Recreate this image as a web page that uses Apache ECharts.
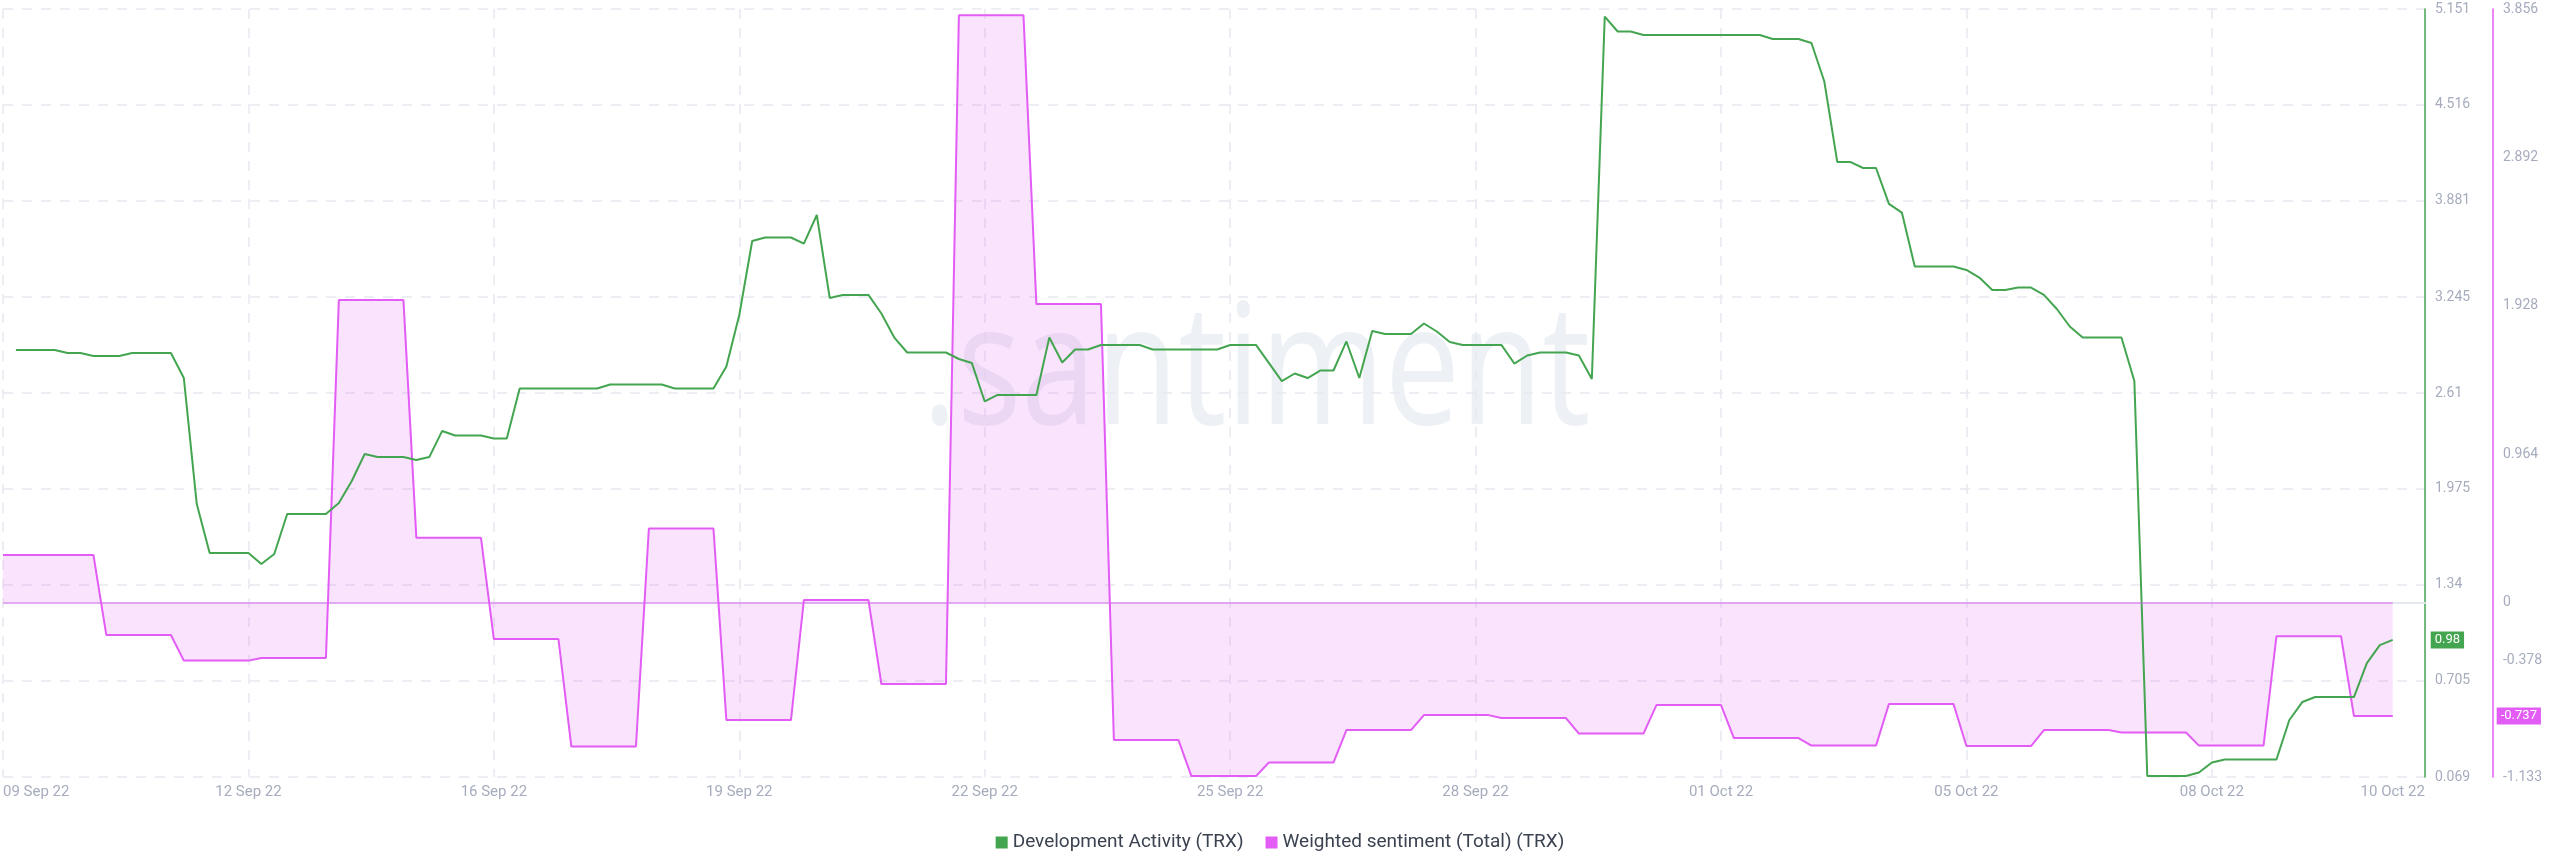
<!DOCTYPE html>
<html>
<head>
<meta charset="utf-8">
<script src="https://cdn.jsdelivr.net/npm/echarts@6/dist/echarts.min.js"></script>
<style>
  html, body { margin: 0; padding: 0; background: #ffffff; }
  #chart { width: 2560px; height: 867px; }
</style>
</head>
<body>
<div id="chart"></div>
<script>
// ---- time base: data are sampled every 4 hours from 09 Sep 2022 16:00 ----
const startTime = Date.UTC(2022, 8, 9, 16);
const stepMs = 4 * 3600 * 1000;
const axisEndStep = 187.5;

// ---- x-axis tick labels (step number -> label) ----
const xTickSteps = [0, 19, 38, 57, 76, 95, 114, 133, 152, 171];
const xTickLabels = ['09 Sep 22', '12 Sep 22', '16 Sep 22', '19 Sep 22', '22 Sep 22', '25 Sep 22', '28 Sep 22', '01 Oct 22', '05 Oct 22', '08 Oct 22'];
const xLastStep = 185;
const xLastLabel = '10 Oct 22';

// ---- y-axis ticks ----
const devTicks = [0.069, 0.705, 1.34, 1.975, 2.61, 3.245, 3.881, 4.516, 5.151];
const sentTicks = [-1.133, -0.378, 0, 0.964, 1.928, 2.892, 3.856];

// ---- Development Activity (TRX) ----
const devSteps = [1,4,5,6,7,9,10,13,14,15,16,19,20,21,22,25,26,27,28,29,31,32,33,34,35,37,38,39,40,46,47,51,52,55,56,57,58,59,61,62,63,64,65,67,68,69,70,73,74,75,76,77,80,81,82,83,84,85,88,89,94,95,97,99,100,101,102,103,104,105,106,107,109,110,111,112,113,116,117,118,119,121,122,123,124,125,126,127,136,137,139,140,141,142,143,144,145,146,147,148,151,152,153,154,155,156,157,158,159,160,161,164,165,166,169,170,171,172,176,177,178,179,182,183,184,185];
const devValues = [2.895,2.895,2.875,2.875,2.855,2.855,2.875,2.875,2.709,1.875,1.551,1.551,1.478,1.545,1.809,1.809,1.882,2.028,2.206,2.186,2.186,2.167,2.186,2.359,2.329,2.329,2.309,2.309,2.640,2.640,2.666,2.666,2.640,2.640,2.785,3.126,3.616,3.639,3.639,3.599,3.788,3.239,3.259,3.259,3.136,2.977,2.878,2.878,2.835,2.809,2.554,2.597,2.597,2.977,2.812,2.898,2.898,2.928,2.928,2.898,2.898,2.928,2.928,2.689,2.739,2.709,2.759,2.759,2.951,2.709,3.020,3.000,3.000,3.070,3.017,2.947,2.928,2.928,2.805,2.858,2.878,2.878,2.858,2.703,5.101,5.002,5.002,4.979,4.979,4.953,4.953,4.926,4.671,4.139,4.139,4.099,4.099,3.861,3.804,3.447,3.447,3.424,3.374,3.292,3.292,3.308,3.308,3.259,3.166,3.050,2.977,2.977,2.689,0.076,0.076,0.099,0.165,0.185,0.185,0.446,0.565,0.598,0.598,0.823,0.942,0.976];

// ---- Weighted sentiment (Total) (TRX) ----
const sentSteps = [0,7,8,13,14,19,20,25,26,31,32,37,38,43,44,49,50,55,56,61,62,67,68,73,74,79,80,85,86,91,92,97,98,103,104,109,110,115,116,121,122,127,128,133,134,139,140,145,146,151,152,157,158,163,164,169,170,175,176,181,182,185];
const sentValues = [0.309,0.309,-0.211,-0.211,-0.377,-0.377,-0.360,-0.360,1.965,1.965,0.422,0.422,-0.237,-0.237,-0.935,-0.935,0.481,0.481,-0.763,-0.763,0.016,0.016,-0.529,-0.529,3.816,3.816,1.939,1.939,-0.893,-0.893,-1.127,-1.127,-1.039,-1.039,-0.828,-0.828,-0.731,-0.731,-0.750,-0.750,-0.851,-0.851,-0.666,-0.666,-0.880,-0.880,-0.929,-0.929,-0.659,-0.659,-0.932,-0.932,-0.828,-0.828,-0.844,-0.844,-0.929,-0.929,-0.218,-0.218,-0.737,-0.737];

const GREEN = '#44a550';
const PINK = '#e25cf5';
const toTime = s => startTime + s * stepMs;

const devData = devSteps.map((s, i) => [toTime(s), devValues[i]]);
const sentData = sentSteps.map((s, i) => [toTime(s), sentValues[i]]);

const labelTimes = xTickSteps.map(toTime).concat([toTime(xLastStep)]);
const labelTexts = xTickLabels.concat([xLastLabel]);
const tickTimes = xTickSteps.map(toTime);

const chart = echarts.init(document.getElementById('chart'), null, { renderer: 'canvas' });

const axisTextColor = '#a6acbd';
const gridColor = '#e6e9f0';

chart.setOption({
  animation: false,
  backgroundColor: '#ffffff',
  textStyle: { fontFamily: 'Roboto' },
  grid: { left: 0, right: 135, top: 9, bottom: 90, containLabel: false },
  graphic: [{
    type: 'text',
    x: 922, y: 376, z: -10, scaleX: 0.8,
    silent: true,
    style: {
      x: 0, y: 0,
      text: '.santiment',
      font: '400 168px "Open Sans"',
      fill: '#edf0f5',
      textAlign: 'left',
      textVerticalAlign: 'middle'
    }
  }],
  legend: {
    bottom: 10,
    left: 'center',
    icon: 'rect',
    itemWidth: 12,
    itemHeight: 12,
    itemGap: 22,
    textStyle: { fontSize: 19, color: '#3b4250', fontFamily: 'Roboto' },
    data: ['Development Activity (TRX)', 'Weighted sentiment (Total) (TRX)']
  },
  xAxis: {
    type: 'value',
    min: startTime,
    max: toTime(axisEndStep),
    axisLine: { show: true, lineStyle: { color: '#e3e7ee', width: 2 } },
    axisTick: { show: false, customValues: tickTimes },
    splitLine: { show: true, lineStyle: { color: gridColor, width: 1.5, type: [10, 9] } },
    axisLabel: {
      customValues: labelTimes,
      color: axisTextColor,
      fontSize: 15,
      margin: 8,
      alignMinLabel: 'left',
      formatter: v => {
        const i = labelTimes.indexOf(v);
        return i >= 0 ? labelTexts[i] : '';
      }
    }
  },
  yAxis: [{
    type: 'value',
    position: 'right',
    min: devTicks[0],
    max: devTicks[devTicks.length - 1],
    axisLine: { show: true, lineStyle: { color: GREEN, width: 1.5 } },
    axisTick: { show: false, customValues: devTicks },
    splitLine: { show: true, lineStyle: { color: gridColor, width: 1.5, type: [10, 9] } },
    axisLabel: { customValues: devTicks, color: axisTextColor, fontSize: 14, margin: 10, formatter: v => String(v) }
  }, {
    type: 'value',
    position: 'right',
    offset: 68,
    min: sentTicks[0],
    max: sentTicks[sentTicks.length - 1],
    axisLine: { show: true, lineStyle: { color: PINK, width: 1.5 } },
    axisTick: { show: false, customValues: sentTicks },
    splitLine: { show: false },
    axisLabel: { customValues: sentTicks, color: axisTextColor, fontSize: 14, margin: 10, formatter: v => String(v) }
  }],
  series: [{
    name: 'Weighted sentiment (Total) (TRX)',
    type: 'line',
    yAxisIndex: 1,
    data: sentData,
    showSymbol: false,
    symbol: 'none',
    color: PINK,
    lineStyle: { color: PINK, width: 2 },
    areaStyle: { color: PINK, opacity: 0.17, origin: 0 },
    z: 2,
    endLabel: {
      show: true,
      formatter: p => p.value[1].toFixed(3),
      backgroundColor: PINK,
      color: '#ffffff',
      fontSize: 13,
      padding: [2, 4],
      distance: 0,
      offset: [104, 0]
    },
    markLine: {
      silent: true,
      symbol: ['none', 'none'],
      label: { show: false },
      lineStyle: { color: PINK, opacity: 0.55, width: 1.5, type: 'solid' },
      data: [[{ coord: [toTime(sentSteps[0]), 0] }, { coord: [toTime(sentSteps[sentSteps.length - 1]), 0] }]]
    }
  }, {
    name: 'Development Activity (TRX)',
    type: 'line',
    yAxisIndex: 0,
    data: devData,
    showSymbol: false,
    symbol: 'none',
    color: GREEN,
    lineStyle: { color: GREEN, width: 2 },
    z: 3,
    endLabel: {
      show: true,
      formatter: p => p.value[1].toFixed(2),
      backgroundColor: GREEN,
      color: '#ffffff',
      fontSize: 13,
      padding: [2, 4],
      distance: 0,
      offset: [38, 0]
    }
  }]
});
</script>
</body>
</html>
